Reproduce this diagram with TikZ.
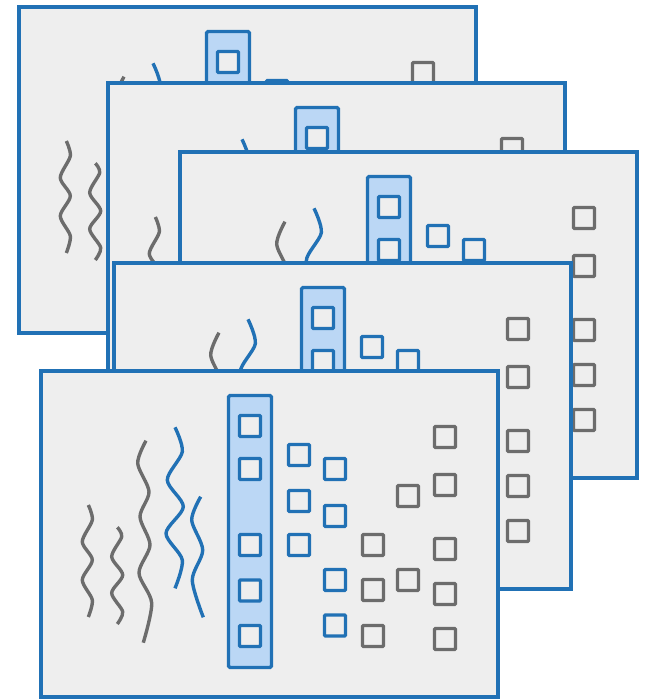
\documentclass[tikz,border=0pt]{standalone}
\usepackage{tikz}
\definecolor{cardblue}{RGB}{33,113,181}
\definecolor{cardfill}{RGB}{238,238,238}
\definecolor{colfill}{RGB}{187,215,245}
\definecolor{cardgray}{RGB}{108,108,108}

\begin{document}
\begin{tikzpicture}[
    x=1pt, y=-1pt,
    frame/.style={draw=cardblue, fill=cardfill, line width=3.4pt},
    column/.style={draw=cardblue, fill=colfill, line width=3.4pt, rounded corners=1.5pt},
    bsq/.style={draw=cardblue, fill=cardfill, line width=3.2pt, rounded corners=1pt},
    gsq/.style={draw=cardgray, fill=cardfill, line width=3.2pt, rounded corners=1pt},
    gwave/.style={draw=cardgray, line width=3.4pt},
    bwave/.style={draw=cardblue, line width=3.4pt},
    card/.pic={
        \draw[frame] (1,1) rectangle (458,327);
        % waves
        \draw[gwave] plot[smooth] coordinates {(48.3,135) (52.3,150) (42.3,171.7) (52.3,190) (42.3,210) (52.3,230) (48.3,247)};
        \draw[gwave] plot[smooth] coordinates {(77.3,157.3) (81.7,166.7) (71.7,186.7) (82.7,205) (71.7,223) (82.7,241.7) (77.3,254)};
        \draw[gwave] plot[smooth] coordinates {(106,70.7) (97.7,93.3) (109,121.7) (100,146.7) (110,175) (99,203) (111.7,233) (103.3,272.7)};
        \draw[bwave] plot[smooth] coordinates {(135,57.3) (142.3,81.7) (127.3,110) (143.3,136.7) (126,163.3) (142.3,190) (135,218.3)};
        \draw[bwave] plot[smooth] coordinates {(160.7,126.7) (151.7,150) (162.7,180) (152.3,210) (163.3,247.3)};
        % column and squares
        \draw[column] (188.5,25.5) rectangle (231.5,297.5);
        \foreach \y in {56,99,175,220.5,266}
            \draw[bsq] (210,\y) +(-10.5,-10.5) rectangle +(10.5,10.5);
        \foreach \y in {85,131,175}
            \draw[bsq] (259,\y) +(-10.5,-10.5) rectangle +(10.5,10.5);
        \foreach \y in {99,146,210,255.5}
            \draw[bsq] (295,\y) +(-10.5,-10.5) rectangle +(10.5,10.5);
        \foreach \y in {175,220,266}
            \draw[gsq] (333,\y) +(-10.5,-10.5) rectangle +(10.5,10.5);
        \foreach \y in {126,210}
            \draw[gsq] (368,\y) +(-10.5,-10.5) rectangle +(10.5,10.5);
        \foreach \y in {67,115,179,224,269}
            \draw[gsq] (405,\y) +(-10.5,-10.5) rectangle +(10.5,10.5);
    }
]
    \useasboundingbox (0,0) rectangle (645,699);

    \pic (back) at (18,6) {card};
    \pic (second) at (107,82) {card};
    \pic (third) at (179,151) {card};
    \pic (fourth) at (113,262) {card};
    \pic (front) at (40,370) {card};
\end{tikzpicture}
\end{document}
